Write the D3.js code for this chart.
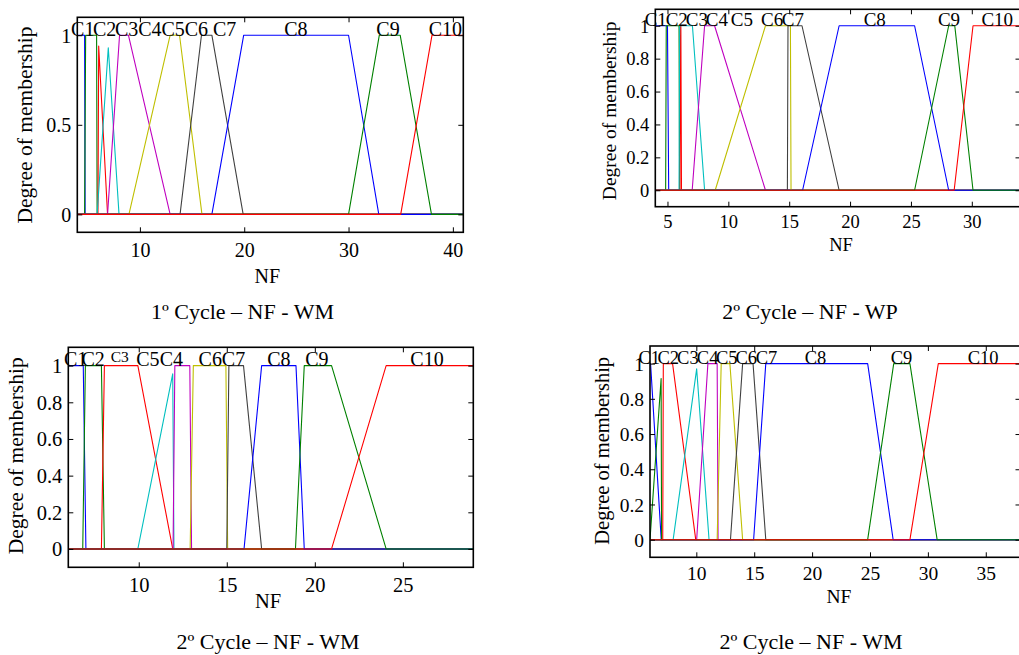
<!DOCTYPE html>
<html><head><meta charset="utf-8">
<script src="https://cdn.jsdelivr.net/npm/d3@7"></script>
<style>
body{margin:0;background:#fff}
svg{display:block}
text{font-family:"Liberation Serif","Times New Roman",serif;fill:#000}
</style>
</head><body>
<svg id="chart" width="1019" height="655"></svg>
<script>
// ---------- data ----------
const mfNames = ["C1","C2","C3","C4","C5","C6","C7","C8","C9","C10"];
const captions = ["1º Cycle – NF - WM","2º Cycle – NF - WP","2º Cycle – NF - WM","2º Cycle – NF - WM"];
const xTitle = "NF";
const yTitle = "Degree of membership";

// panel 1 : trapezoid [a,b,c,d,height]
const p1XDomain = [4, 41];
const p1XTicks = [10, 20, 30, 40];
const p1YTicks = [0, 0.5, 1];
const p1MF = [
  [4, 4, 4.7, 4.75, 1],
  [4.7, 4.8, 5.85, 5.9, 1],
  [5.98, 6.05, 6.05, 6.9, 0.94],
  [5.9, 6.97, 6.97, 8.0, 0.93],
  [6.9, 8.05, 8.9, 12.9, 1],
  [8.95, 12.9, 13.8, 15.95, 1],
  [13.85, 15.9, 16.9, 19.9, 1],
  [16.9, 19.95, 30.0, 32.9, 1],
  [30.0, 32.95, 34.95, 37.95, 1],
  [35.0, 38.0, 41, 41, 1]
];
const p1LabelX = [4.52, 6.62, 8.73, 10.96, 13.19, 15.41, 18.13, 24.95, 33.78, 39.28];

// panel 2
const p2XDomain = [4, 34];
const p2XTicks = [5, 10, 15, 20, 25, 30];
const p2YTicks = [0, 0.2, 0.4, 0.6, 0.8, 1];
const p2MF = [
  [4, 4, 5.0, 5.1, 1],
  [4.85, 4.9, 5.95, 6.0, 1],
  [6.02, 6.08, 6.1, 6.15, 1],
  [5.95, 6.0, 7.05, 8.05, 1],
  [7.03, 8.05, 8.87, 13.05, 1],
  [8.92, 13.05, 15.1, 15.15, 1],
  [14.85, 14.9, 16.05, 19.1, 1],
  [16.1, 19.1, 25.3, 28.1, 1],
  [25.3, 28.1, 28.6, 30.1, 1],
  [28.55, 30.1, 34, 34, 1]
];
const p2LabelX = [4.04, 5.76, 7.41, 9.06, 11.11, 13.6, 15.3, 22.03, 28.13, 32.09];

// panel 3
const p3XDomain = [6, 29];
const p3XTicks = [10, 15, 20, 25];
const p3YTicks = [0, 0.2, 0.4, 0.6, 0.8, 1];
const p3MF = [
  [6, 6, 6.85, 7.0, 1],
  [6.82, 6.97, 7.88, 8.05, 1],
  [7.88, 8.05, 9.95, 11.93, 1],
  [9.95, 11.93, 11.93, 12.0, 0.955],
  [11.95, 12.05, 12.9, 13.0, 1],
  [12.92, 13.1, 14.95, 15.05, 1],
  [15.0, 15.12, 15.95, 16.98, 1],
  [15.98, 16.98, 18.93, 19.4, 1],
  [18.9, 19.4, 20.95, 24.05, 1],
  [20.95, 24.05, 29, 29, 1]
];
const p3LabelX = [6.42, 7.41, 8.92, 11.85, 10.52, 14.06, 15.38, 17.96, 20.12, 26.37];

// panel 4
const p4XDomain = [6, 38];
const p4XTicks = [10, 15, 20, 25, 30, 35];
const p4YTicks = [0, 0.2, 0.4, 0.6, 0.8, 1];
const p4MF = [
  [6, 6, 6.05, 6.97, 1],
  [6, 6.96, 6.96, 7.0, 0.915],
  [7.1, 7.15, 7.95, 9.95, 1],
  [8.0, 10.03, 10.03, 11.1, 0.97],
  [10.03, 11.0, 11.8, 11.88, 1],
  [11.8, 12.15, 12.9, 14.0, 1],
  [12.95, 14.0, 14.9, 16.0, 1],
  [14.95, 16.0, 24.8, 27.0, 1],
  [24.8, 27.05, 28.45, 30.8, 1],
  [28.45, 30.9, 38, 38, 1]
];
const p4LabelX = [5.94, 7.58, 9.27, 10.98, 12.63, 14.32, 16.07, 20.29, 27.73, 34.77];

const yDomain = [-0.1, 1.1];

// ---------- styles / layout ----------
const mfColors = ["#0000ff","#008000","#ff0000","#00bfbf","#bf00bf","#bfbf00","#404040","#0000ff","#008000","#ff0000"];

const panels = [
  {xd:p1XDomain, xt:p1XTicks, yt:p1YTicks, mf:p1MF, lx:p1LabelX, cap:captions[0],
   box:{l:77.3,r:463.3,t:17.3,b:232.3}, tickFs:20, labFs:20, yFs:21.5, xtDy:24.4,
   nf:[267.3,283.3], yl:[32,125], capPos:[242.5,319.3]},
  {xd:p2XDomain, xt:p2XTicks, yt:p2YTicks, mf:p2MF, lx:p2LabelX, cap:captions[1],
   box:{l:655.3,r:1020.5,t:9.3,b:206.7}, tickFs:18.5, labFs:19, yFs:19.5, xtDy:21.6,
   nf:[841,250.7], yl:[616,110.8], capPos:[810,319.3]},
  {xd:p3XDomain, xt:p3XTicks, yt:p3YTicks, mf:p3MF, lx:p3LabelX, cap:captions[2],
   box:{l:68.3,r:473.3,t:347.3,b:567.3}, tickFs:20.5, labFs:20, yFs:21.5, xtDy:24.4,
   nf:[268,608.3], yl:[23,455.8], capPos:[268,648.5], small:{i:2, fs:15.5, dy:-3.5}},
  {xd:p4XDomain, xt:p4XTicks, yt:p4YTicks, mf:p4MF, lx:p4LabelX, cap:captions[3],
   box:{l:650,r:1020.5,t:346,b:557.3}, tickFs:19.5, labFs:18.5, yFs:20.5, xtDy:22.7,
   nf:[839,603.3], yl:[609,450.8], capPos:[811,648.5]}
];

const svg = d3.select("#chart");
const fmt = d3.format("~g");

panels.forEach((p, pi) => {
  const x = d3.scaleLinear().domain(p.xd).range([p.box.l, p.box.r]);
  const y = d3.scaleLinear().domain(yDomain).range([p.box.b, p.box.t]);
  const g = svg.append("g");
  const clipId = "clip" + pi;
  g.append("clipPath").attr("id", clipId).append("rect")
    .attr("x", p.box.l).attr("y", p.box.t)
    .attr("width", p.box.r - p.box.l).attr("height", p.box.b - p.box.t);

  const line = d3.line().x(d => x(d[0])).y(d => y(d[1]));
  const lines = g.append("g").attr("clip-path", `url(#${clipId})`);
  p.mf.forEach((m, i) => {
    const [a, b, c, d, h] = m;
    const xmin = p.xd[0], xmax = p.xd[1];
    const pts = [];
    if (a > xmin) pts.push([xmin, 0]);
    if (a > xmin || b > xmin) pts.push([a, a === b ? 0 : 0]);
    if (a <= xmin && b <= xmin) { pts.length = 0; }
    pts.push([b, h]);
    pts.push([c, h]);
    if (d > c || d < xmax) pts.push([d, 0]);
    if (d < xmax) pts.push([xmax, 0]);
    lines.append("path").attr("d", line(pts))
      .attr("fill", "none").attr("stroke", mfColors[i])
      .attr("stroke-width", 1.1).attr("stroke-linejoin", "round");
  });

  // axes (box with inward ticks on all sides)
  const axG = g.append("g");
  const bottom = d3.axisBottom(x).tickValues(p.xt).tickSizeInner(-5).tickSizeOuter(0).tickFormat(fmt);
  const top = d3.axisTop(x).tickValues(p.xt).tickSizeInner(-5).tickSizeOuter(0).tickFormat("");
  const left = d3.axisLeft(y).tickValues(p.yt).tickSizeInner(-5).tickSizeOuter(0).tickFormat(fmt);
  const right = d3.axisRight(y).tickValues(p.yt).tickSizeInner(-5).tickSizeOuter(0).tickFormat("");

  const gb = axG.append("g").attr("transform", `translate(0,${p.box.b})`).call(bottom);
  gb.selectAll("text").attr("y", p.xtDy).attr("dy", null).attr("font-size", p.tickFs);
  axG.append("g").attr("transform", `translate(0,${p.box.t})`).call(top);
  const gl = axG.append("g").attr("transform", `translate(${p.box.l},0)`).call(left);
  gl.selectAll("text").attr("x", -6).attr("dy", "0.34em").attr("font-size", p.tickFs);
  axG.append("g").attr("transform", `translate(${p.box.r},0)`).call(right);
  axG.selectAll(".domain").remove();
  axG.selectAll("line").attr("stroke", "#000").attr("stroke-width", 1);
  axG.selectAll("text").attr("font-family", '"Liberation Serif","Times New Roman",serif').attr("fill", "#000");

  axG.append("rect").attr("x", p.box.l).attr("y", p.box.t)
    .attr("width", p.box.r - p.box.l).attr("height", p.box.b - p.box.t)
    .attr("fill", "none").attr("stroke", "#000").attr("stroke-width", 1.6);

  // membership labels
  mfNames.forEach((n, i) => {
    const sm = p.small && p.small.i === i;
    g.append("text").attr("x", x(p.lx[i])).attr("y", y(1) + (sm ? p.small.dy : 0.5))
      .attr("text-anchor", "middle").attr("font-size", sm ? p.small.fs : p.labFs).text(n);
  });

  // axis titles
  g.append("text").attr("x", p.nf[0]).attr("y", p.nf[1]).attr("text-anchor", "middle")
    .attr("font-size", p.tickFs).text(xTitle);
  g.append("text").attr("transform", `translate(${p.yl[0]},${p.yl[1]}) rotate(-90)`)
    .attr("text-anchor", "middle").attr("font-size", p.yFs).text(yTitle);

  // caption
  svg.append("text").attr("x", p.capPos[0]).attr("y", p.capPos[1]).attr("text-anchor", "middle")
    .attr("font-size", 22).text(p.cap);
});
</script>
</body></html>
